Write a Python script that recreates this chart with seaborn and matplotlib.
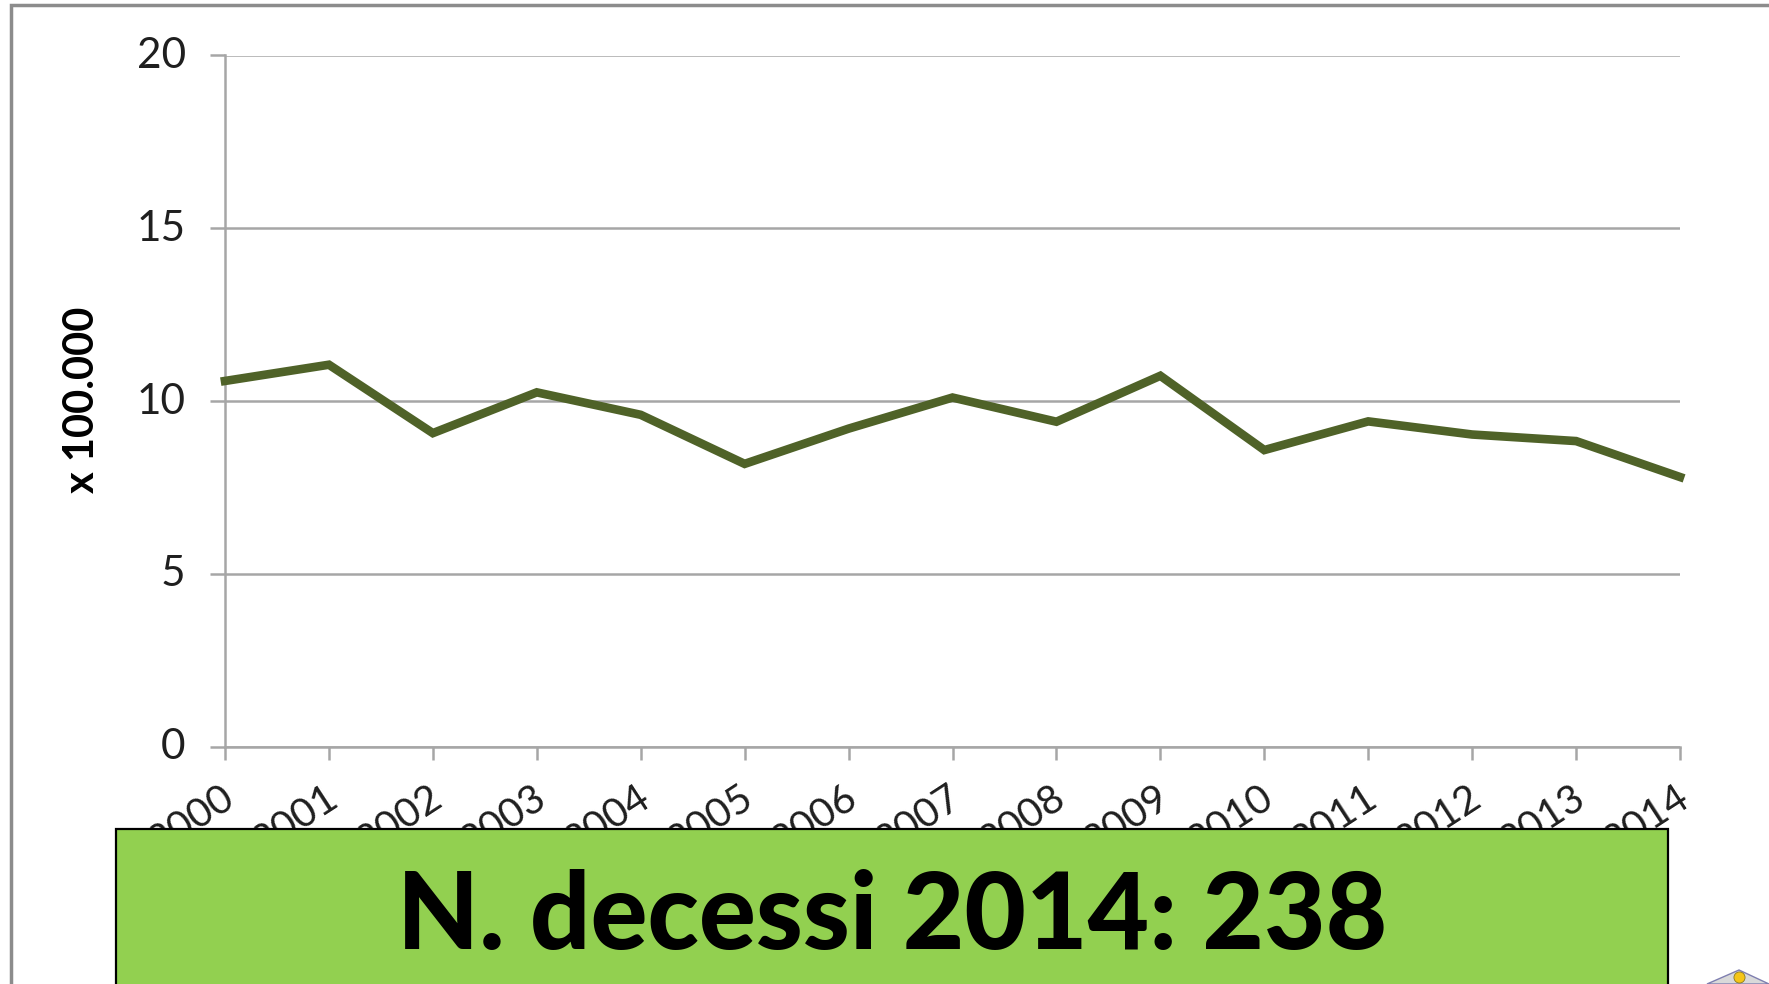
import matplotlib
matplotlib.use('Agg')
import matplotlib.pyplot as plt
from matplotlib.patches import Rectangle, Polygon
from matplotlib.transforms import ScaledTranslation
import pandas as pd
import seaborn as sns

# Dati
anni = [2000, 2001, 2002, 2003, 2004, 2005, 2006, 2007, 2008, 2009, 2010, 2011, 2012, 2013, 2014]
tassi = [10.58, 11.05, 9.07, 10.25, 9.6, 8.18, 9.2, 10.1, 9.4, 10.73, 8.58, 9.41, 9.03, 8.84, 7.8]
tick_y = [0, 5, 10, 15, 20]
titolo_y = 'x 100.000'
testo_box = 'N. decessi 2014: 238'

W, H = 1769, 984
GRIGIO = '#a6a6a6'

sns.set_theme(style='white')
plt.rcParams['font.family'] = ['Lato', 'DejaVu Sans']

df = pd.DataFrame({'anno': anni, 'tasso': tassi})

fig = plt.figure(figsize=(W / 100, H / 100), dpi=100, facecolor='white')
ax = fig.add_axes([225 / W, 1 - 746.5 / H, (1680 - 225) / W, (746.5 - 55.5) / H])

sns.lineplot(data=df, x='anno', y='tasso', color='#4f6228', linewidth=6.2, ax=ax,
             clip_on=False, solid_joinstyle='miter', solid_capstyle='projecting', zorder=3)

ax.set_xlim(anni[0], anni[-1])
ax.set_ylim(0, 20)
ax.set_xticks(anni)
ax.set_yticks(tick_y)
ax.set_xlabel('')
ax.set_ylabel('')
ax.yaxis.grid(True, color=GRIGIO, linewidth=1.8)
ax.set_axisbelow(True)

for lato in ['top', 'right']:
    ax.spines[lato].set_visible(False)
for lato in ['left', 'bottom']:
    ax.spines[lato].set_color(GRIGIO)
    ax.spines[lato].set_linewidth(1.8)

ax.tick_params(axis='y', left=True, length=10.8, width=1.8, color=GRIGIO, labelsize=30.5, labelcolor='#1f1f1f', pad=17.5)
ax.tick_params(axis='x', bottom=True, length=9.5, width=1.8, color=GRIGIO, labelsize=29, labelcolor='#1f1f1f', pad=14)
sposta_x = ScaledTranslation(-5 / 100, 0, fig.dpi_scale_trans)
sposta_y = ScaledTranslation(0, 3 / 100, fig.dpi_scale_trans)
for lab in ax.get_xticklabels():
    lab.set_rotation(33)
    lab.set_ha('right')
    lab.set_rotation_mode('anchor')
    lab.set_va('top')
    lab.set_transform(lab.get_transform() + sposta_x)
for lab in ax.get_yticklabels():
    lab.set_transform(lab.get_transform() + sposta_y)

fig.text(82 / W, 1 - 400 / H, titolo_y, rotation=90, ha='center', va='center',
         fontsize=30, fontweight='bold', color='black')

# cornice esterna
fig.add_artist(Rectangle((11 / W, 1 - 1000 / H), 1800 / W, 995 / H, fill=False,
                         edgecolor='#8c8c8c', linewidth=2.5, transform=fig.transFigure, zorder=4))

# riquadro verde sopra le etichette
fig.add_artist(Rectangle((115.5 / W, 1 - 1000 / H), (1668 - 115.5) / W, (1000 - 829) / H,
                         facecolor='#92d050', edgecolor='black', linewidth=1.6,
                         transform=fig.transFigure, zorder=5))
fig.text(892 / W, 1 - 918 / H, testo_box, ha='center', va='center', fontsize=76.5,
         fontweight='black', color='black', zorder=6)

# piccolo logo in basso a destra
fig.add_artist(Polygon([(1707 / W, 1 - 984 / H), (1739 / W, 1 - 970 / H), (1769 / W, 1 - 984 / H)],
                       closed=True, facecolor='#d9d9d9', edgecolor='#7f7fb0', linewidth=1,
                       transform=fig.transFigure, zorder=5))
fig.add_artist(plt.Line2D([1738.5 / W], [1 - 977 / H], marker='o', markersize=8, color='#f5c518',
                          markeredgecolor='#8a7a20', markeredgewidth=0.6, transform=fig.transFigure, zorder=6))

fig.savefig('out.png', dpi=100)
